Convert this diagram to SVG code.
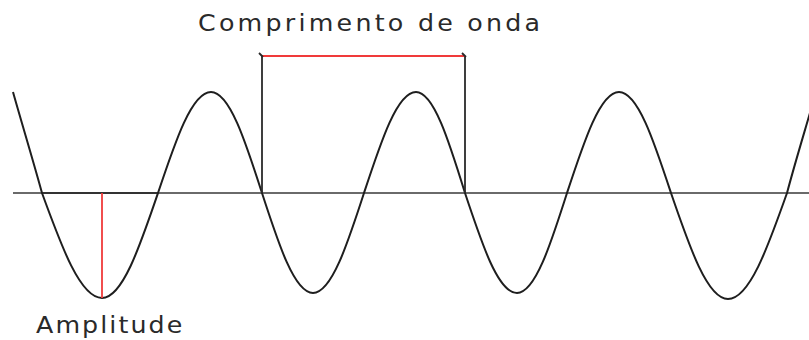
<svg xmlns="http://www.w3.org/2000/svg" width="809" height="340" viewBox="0 0 809 340">
<style>
.wave{fill:none;stroke:#1e1e1e;stroke-width:2;stroke-linejoin:round}
.axis{fill:none;stroke:#6a6a6a;stroke-width:2.2}
.dim{fill:none;stroke:#2a2a2a;stroke-width:1.8}
.red{fill:none;stroke:#f03a3a;stroke-width:1.8}
.lbl{font-family:"DejaVu Sans","Liberation Sans",sans-serif;font-size:23px;fill:#2a2a2a}
</style>
<rect width="809" height="340" fill="#fff"/>
<g id="axis">
<line class="axis" x1="13" y1="193" x2="809" y2="193"/>
<line x1="42" y1="193" x2="158" y2="193" stroke="#333" stroke-width="2.2"/>
</g>
<g id="wave">
<path class="wave" d="M13,92 C22,124 33,160 42,193
C61.6,246.8 80.3,298 102,298
C122.3,298 139.7,246.8 158,193
C175.3,141.3 191.8,92 211,92
C229.5,92 245.4,141.3 262,193
C278.6,244.2 294.5,293 313,293
C331.5,293 347.4,244.2 364,193
C381,141.3 397.2,92 416,92
C433.7,92 449,141.3 465,193
C482,244.2 498.2,293 517,293
C535.1,293 550.7,244.2 567,193
C584,141.3 600.2,92 619,92
C637.8,92 654,141.3 671,193
C689.6,247.3 707.4,299 728,299
C749.4,299 767.8,247.3 787,193
C795,163 803,137 812,106"/>
</g>
<g id="connectors">
<line class="dim" x1="262" y1="56" x2="262" y2="193"/>
<line class="dim" x1="465" y1="56" x2="465" y2="193"/>
<line class="red" x1="262" y1="56" x2="465" y2="56"/>
<path class="dim" d="M259,53 L263,57 M462,53 L466,57"/>
<line class="red" x1="102" y1="193" x2="102" y2="298"/>
</g>
<g id="label-wavelength">
<text class="lbl" transform="translate(198,31) scale(1.1,1)" x="0" y="0" textLength="311" lengthAdjust="spacing">Comprimento de onda</text>
</g>
<g id="label-amplitude">
<text class="lbl" transform="translate(36,333) scale(1.1,1)" x="0" y="0" textLength="133" lengthAdjust="spacing">Amplitude</text>
</g>
</svg>
